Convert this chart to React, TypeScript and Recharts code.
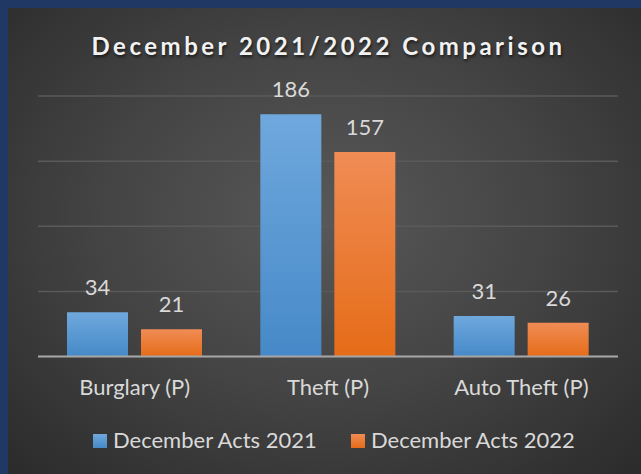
import React from 'react';
import { BarChart, Bar, XAxis, YAxis, CartesianGrid, LabelList, Legend } from 'recharts';

const categories = ['Burglary (P)', 'Theft (P)', 'Auto Theft (P)'];
const acts2021 = [34, 186, 31];
const acts2022 = [21, 157, 26];
const yTicks = [0, 50, 100, 150, 200];
const seriesNames = ['December Acts 2021', 'December Acts 2022'];
const title = 'December 2021/2022 Comparison';

const data = categories.map((c, i) => ({ name: c, a2021: acts2021[i], a2022: acts2022[i] }));

const FONT = 'Lato, "Open Sans", sans-serif';
const W = 633;
const H = 466;

const swatches = [
  'linear-gradient(#6fa8dd, #4689c8)',
  'linear-gradient(#f08c55, #e56c18)',
];

const LegendContent = () => (
  <div style={{ position: 'relative', width: W, height: 30 }}>
    {seriesNames.map((n, i) => (
      <div
        key={n}
        style={{
          position: 'absolute',
          left: i === 0 ? 85 : 343,
          top: 0,
          display: 'flex',
          alignItems: 'flex-start',
          whiteSpace: 'nowrap',
        }}
      >
        <div style={{ width: 14, height: 14, marginTop: 5.5, background: swatches[i] }} />
        <span
          style={{
            marginLeft: 6,
            fontFamily: FONT,
            fontSize: 22,
            lineHeight: '22px',
            color: '#d9d9d9',
          }}
        >
          {n}
        </span>
      </div>
    ))}
  </div>
);

export default function App() {
  return (
    <div style={{ position: 'absolute', left: 0, top: 0, width: 641, height: 474, background: '#1f3864', overflow: 'hidden' }}>
      <div
        style={{
          position: 'absolute',
          left: 8,
          top: 8,
          width: W,
          height: H,
          background: 'radial-gradient(ellipse 70% 75% at 50% 45%, #585858 0%, #444444 50%, #2c2c2c 100%)',
        }}
      >
        <div
          style={{
            position: 'absolute',
            left: 4,
            top: 25.7,
            width: W,
            textAlign: 'center',
            fontFamily: FONT,
            fontWeight: 700,
            fontSize: 24,
            lineHeight: '24px',
            letterSpacing: 3.5,
            color: '#f2f2f2',
            textShadow: '1px 2px 3px rgba(0,0,0,0.6)',
            whiteSpace: 'nowrap',
          }}
        >
          {title}
        </div>
        <BarChart
          width={W}
          height={H}
          data={data}
          margin={{ top: 88, right: 23, left: 30, bottom: 77.5 }}
          barCategoryGap="15%"
          barGap={13}
        >
          <defs>
            <linearGradient id="gBlue" x1="0" y1="0" x2="0" y2="1">
              <stop offset="0%" stopColor="#6fa8dd" />
              <stop offset="100%" stopColor="#4689c8" />
            </linearGradient>
            <linearGradient id="gOrange" x1="0" y1="0" x2="0" y2="1">
              <stop offset="0%" stopColor="#f08c55" />
              <stop offset="100%" stopColor="#e56c18" />
            </linearGradient>
          </defs>
          <CartesianGrid vertical={false} stroke="#5a5a5a" strokeWidth={1.5} />
          <YAxis hide domain={[0, 200]} ticks={yTicks} />
          <XAxis
            dataKey="name"
            height={40}
            tickLine={false}
            tickSize={0}
            tickMargin={23}
            axisLine={{ stroke: '#a6a6a6', strokeWidth: 2 }}
            tick={{ fill: '#d9d9d9', fontSize: 22, fontFamily: FONT }}
          />
          <Legend
            layout="horizontal"
            verticalAlign="middle"
            align="center"
            wrapperStyle={{ top: 420.5, left: 0, width: W }}
            content={LegendContent}
          />
          <Bar dataKey="a2021" name={seriesNames[0]} fill="url(#gBlue)" isAnimationActive={false}>
            <LabelList dataKey="a2021" position="top" offset={17} fill="#d9d9d9" fontSize={22} fontFamily={FONT} />
          </Bar>
          <Bar dataKey="a2022" name={seriesNames[1]} fill="url(#gOrange)" isAnimationActive={false}>
            <LabelList dataKey="a2022" position="top" offset={17} fill="#d9d9d9" fontSize={22} fontFamily={FONT} />
          </Bar>
        </BarChart>
      </div>
    </div>
  );
}
